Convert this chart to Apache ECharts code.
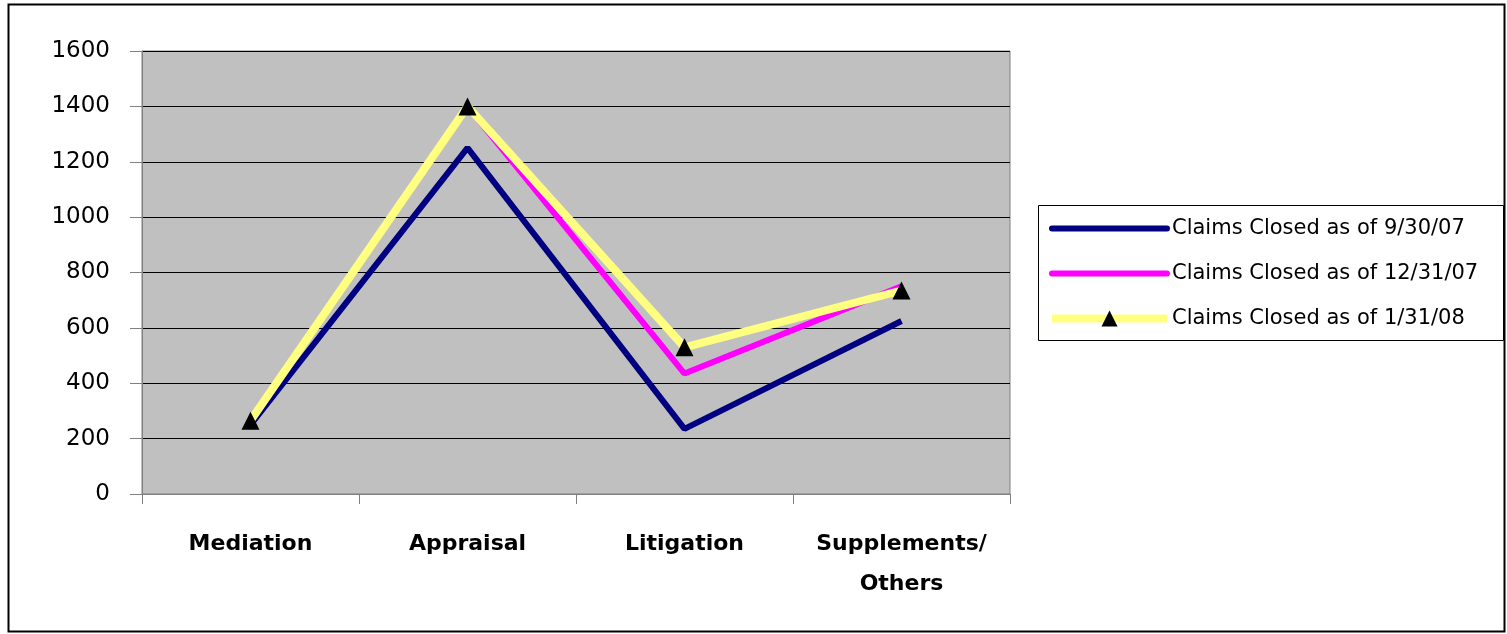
<!DOCTYPE html>
<html><head><meta charset="utf-8">
<script src="https://cdn.jsdelivr.net/npm/echarts@6/dist/echarts.min.js"></script>
<style>html,body{margin:0;padding:0;background:#fff}#c{width:1507px;height:634px}</style>
</head><body><div id="c"></div>
<script>
const categories = ['Mediation', 'Appraisal', 'Litigation', 'Supplements/\nOthers'];
const seriesNames = ['Claims Closed as of 9/30/07', 'Claims Closed as of 12/31/07', 'Claims Closed as of 1/31/08'];
const closed0930 = [250, 1250, 235, 625];
const closed1231 = [265, 1400, 435, 750];
const closed0131 = [265, 1400, 530, 735];
const yTicks = {min: 0, max: 1600, interval: 200};

const chart = echarts.init(document.getElementById('c'));
chart.setOption({
  animation: false,
  backgroundColor: '#fff',
  graphic: [
    {type: 'rect', shape: {x: 8.5, y: 4.5, width: 1496, height: 627}, style: {fill: 'none', stroke: '#000', lineWidth: 2}, z: -10},
    {type: 'rect', shape: {x: 1038.5, y: 205.5, width: 465, height: 135}, style: {fill: '#fff', stroke: '#000', lineWidth: 1}, z: -5}
  ],
  grid: {left: 142, top: 51, right: 497, bottom: 140, show: true, backgroundColor: '#C0C0C0', borderColor: '#808080', borderWidth: 1},
  xAxis: {
    type: 'category', data: categories, boundaryGap: true,
    axisLine: {lineStyle: {color: '#808080', width: 1}},
    axisTick: {show: true, length: 10, lineStyle: {color: '#808080'}},
    axisLabel: {color: '#000', fontFamily: 'DejaVu Sans', fontWeight: 'bold', fontSize: 22, lineHeight: 40, margin: 30, interval: 0}
  },
  yAxis: {
    type: 'value', min: yTicks.min, max: yTicks.max, interval: yTicks.interval,
    axisLine: {show: true, lineStyle: {color: '#808080'}},
    axisTick: {show: true, length: 12, lineStyle: {color: '#808080'}},
    splitLine: {lineStyle: {color: '#000', width: 1}},
    axisLabel: {color: '#000', fontFamily: 'DejaVu Sans', fontSize: 23, margin: 32, formatter: v => String(v)}
  },
  legend: {
    orient: 'vertical', left: 1048, top: 218,
    padding: 0, itemGap: 24, itemWidth: 115, itemHeight: 20,
    textStyle: {color: '#000', fontFamily: 'DejaVu Sans', fontSize: 21},
    data: [
      {name: seriesNames[0], itemStyle: {opacity: 0}, lineStyle: {width: 6, cap: 'round'}},
      {name: seriesNames[1], itemStyle: {opacity: 0}, lineStyle: {width: 6, cap: 'round'}},
      {name: seriesNames[2], lineStyle: {width: 8}}
    ]
  },
  series: [
    {name: seriesNames[0], type: 'line', data: closed0930, symbol: 'none', lineStyle: {color: '#000080', width: 6}, itemStyle: {color: '#000080'}, z: 2},
    {name: seriesNames[1], type: 'line', data: closed1231, symbol: 'none', lineStyle: {color: '#FF00FF', width: 6}, itemStyle: {color: '#FF00FF'}, z: 3},
    {name: seriesNames[2], type: 'line', data: closed0131, symbol: 'triangle', symbolSize: 18, lineStyle: {color: '#FFFF80', width: 8}, itemStyle: {color: '#000', borderWidth: 0}, z: 4}
  ]
});
</script></body></html>
